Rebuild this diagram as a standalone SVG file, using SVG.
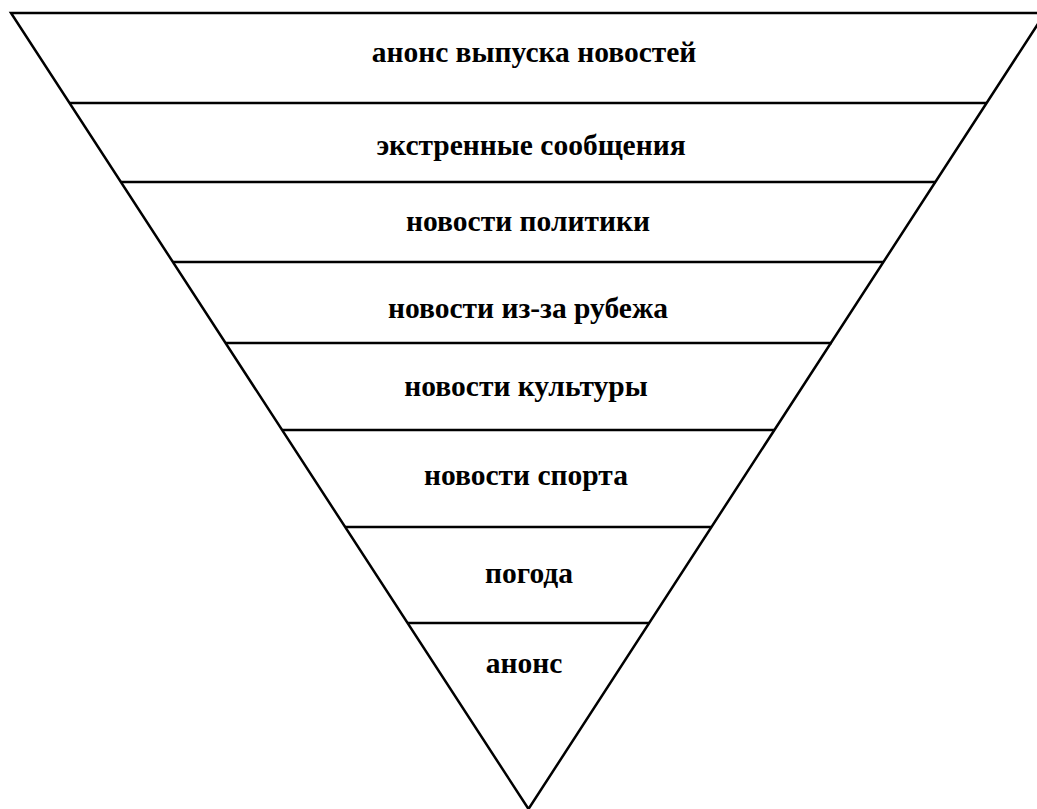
<svg xmlns="http://www.w3.org/2000/svg" width="1037" height="809" viewBox="0 0 1037 809">
<style>
.ln{stroke:#000;stroke-width:2.5;fill:none;stroke-linecap:butt}
.t{font-family:"Liberation Serif","Times New Roman",serif;font-weight:bold;font-size:29.5px;fill:#000;text-anchor:middle}
</style>
<rect width="1037" height="809" fill="#fff"/>
<g id="connectors">
<polygon class="ln" points="11,13 1045,13 528.5,809"/>
<line class="ln" x1="69.5" y1="103" x2="987" y2="103"/>
<line class="ln" x1="121" y1="182" x2="936" y2="182"/>
<line class="ln" x1="173" y1="262" x2="884" y2="262"/>
<line class="ln" x1="226" y1="343" x2="832" y2="343"/>
<line class="ln" x1="282" y1="430" x2="775" y2="430"/>
<line class="ln" x1="345" y1="527" x2="711" y2="527"/>
<line class="ln" x1="408" y1="623" x2="649" y2="623"/>
</g>
<g id="n1"><text class="t" x="534" y="62">анонс выпуска новостей</text></g>
<g id="n2"><text class="t" x="531" y="155">экстренные сообщения</text></g>
<g id="n3"><text class="t" x="528" y="231">новости политики</text></g>
<g id="n4"><text class="t" x="528" y="318">новости из-за рубежа</text></g>
<g id="n5"><text class="t" x="526" y="396">новости культуры</text></g>
<g id="n6"><text class="t" x="526" y="485">новости спорта</text></g>
<g id="n7"><text class="t" x="529" y="583">погода</text></g>
<g id="n8"><text class="t" x="524" y="673">анонс</text></g>
</svg>
